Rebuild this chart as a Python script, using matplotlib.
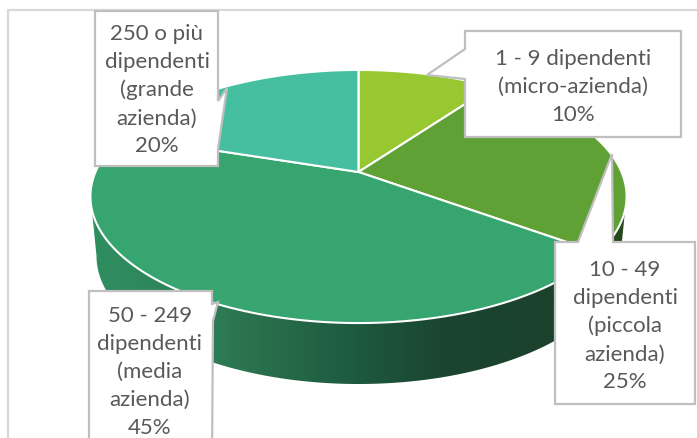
import numpy as np
import matplotlib
matplotlib.use('Agg')
import matplotlib.pyplot as plt
from matplotlib.colors import LinearSegmentedColormap
from matplotlib.patches import Polygon

plt.rcParams['font.family'] = ['Lato', 'DejaVu Sans']

labels = ['1 - 9 dipendenti\n(micro-azienda)',
          '10 - 49\ndipendenti\n(piccola\nazienda)',
          '50 - 249\ndipendenti\n(media\nazienda)',
          '250 o più\ndipendenti\n(grande\nazienda)']
values = [10, 25, 45, 20]
colors = ['#97c832', '#5fa135', '#36a56f', '#45bf9f']

# pie centre and perspective of the top face, in pixels
CX, CY = 358.5, 173
A, B, K = 263, 121.8, 0.1937
# front wall, top and bottom rims
TOP_CY, TOP_RX, TOP_RY = 197, 268, 127
BOT_CY, BOT_RX, BOT_RY = 257, 262, 128

# label box: left, right, top, bottom, tail points, text centre
boxes = [
    ((465, 681, 32, 138), [(465, 50), (427, 76), (465, 80)], 'left', (573, 87)),
    ((555, 695, 243, 405), [(578, 243), (612, 155), (613, 243)], 'top', (625, 326)),
    ((89, 212, 292, 460), [(212, 305), (218, 303), (213, 322)], 'right', (150, 372)),
    ((95, 218, 12, 167), [(218, 102), (227, 89), (218, 150)], 'right', (157, 90)),
]


def project(theta):
    # theta runs clockwise from the back of the pie
    u, w = np.sin(theta), -np.cos(theta)
    d = 1 - K * w
    return CX + A * u / d, CY + B * w / d


def box_outline(box, tail, side):
    x0, x1, y0, y1 = box
    pts = [(x0, y0)]
    if side == 'top':
        pts += tail
    pts.append((x1, y0))
    if side == 'right':
        pts += tail
    pts += [(x1, y1), (x0, y1)]
    if side == 'left':
        pts += tail[::-1]
    return pts


fig = plt.figure(figsize=(6.97, 4.39), dpi=100)
ax = fig.add_axes([0, 0, 1, 1])
ax.set_xlim(0, 697)
ax.set_ylim(439, 0)
ax.axis('off')

# chart frame
ax.plot([8, 8, 697], [439, 11, 11], color='#d9d9d9', lw=1.6, zorder=1)

# front wall with its horizontal shading
t = np.linspace(0, np.pi, 200)
rim_top = np.column_stack([CX + TOP_RX * np.cos(t), TOP_CY + TOP_RY * np.sin(t)])
rim_bot = np.column_stack([CX + BOT_RX * np.cos(t), BOT_CY + BOT_RY * np.sin(t)])
wall = Polygon(np.vstack([rim_top, rim_bot[::-1]]), closed=True, fc='none', ec='none')
ax.add_patch(wall)
x_stops = [0, 0.2, 0.32, 0.45, 0.66, 0.95, 0.96, 1]
c_stops = ['#2f8f60', '#2e8058', '#2a6f4c', '#1f5f42', '#1a4530', '#1a402b', '#26491c', '#26491c']
cmap = LinearSegmentedColormap.from_list('wall', list(zip(x_stops, c_stops)))
img = ax.imshow(np.linspace(0, 1, 256)[None, :], cmap=cmap, aspect='auto',
                extent=[CX - TOP_RX, CX + TOP_RX, 439, 0], zorder=2)
img.set_clip_path(wall)
ax.set_xlim(0, 697)
ax.set_ylim(439, 0)

# top face, one wedge per value
edges = np.cumsum([0] + values) / sum(values) * 2 * np.pi
for i, c in enumerate(colors):
    th = np.linspace(edges[i], edges[i + 1], 120)
    px, py = project(th)
    pts = np.column_stack([np.r_[CX, px], np.r_[CY, py]])
    ax.add_patch(Polygon(pts, closed=True, fc=c, ec='white', lw=1.5, zorder=3))

# label boxes
for i, (box, tail, side, pos) in enumerate(zip(*[[b[k] for b in boxes] for k in range(4)])):
    ax.add_patch(Polygon(box_outline(box, tail, side), closed=True, fc='white',
                         ec='#bfbfbf', lw=1.6, zorder=4))
    ax.text(pos[0], pos[1], '%s\n%d%%' % (labels[i], values[i]), ha='center', va='center',
            ma='center', fontsize=16, color='#595959', linespacing=1.5, zorder=5)

fig.savefig('out.png', dpi=100)
